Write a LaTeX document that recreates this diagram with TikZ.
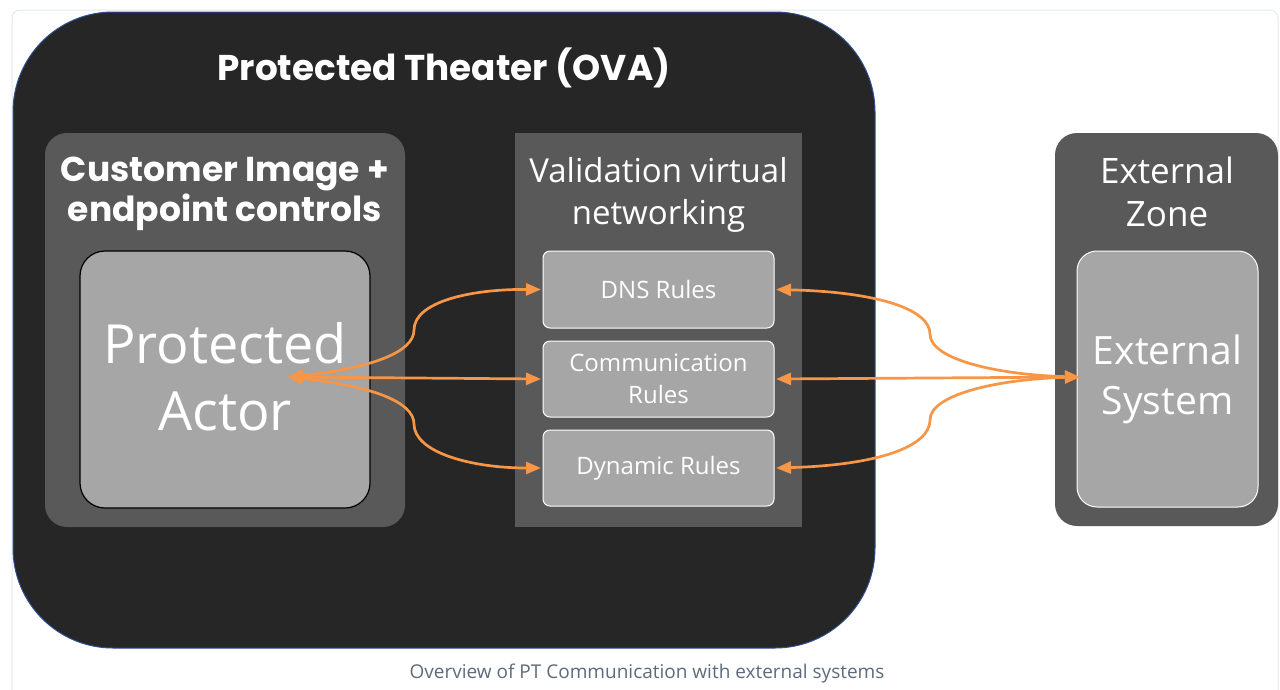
\documentclass[tikz,border=0pt]{standalone}
\usepackage{fontspec}
\setmainfont{Open Sans}
\newfontfamily\titlefont{Poppins}
\usetikzlibrary{arrows.meta}
\definecolor{darkbg}{HTML}{262626}
\definecolor{midbg}{HTML}{595959}
\definecolor{lightbg}{HTML}{A6A6A6}
\definecolor{orng}{HTML}{F79646}
\definecolor{edgeblue}{HTML}{2F4F8F}
\definecolor{framecol}{HTML}{E4E9F0}
\definecolor{capcol}{HTML}{5F6B7B}
\tikzset{
  box/.style={inner sep=0pt, outer sep=0pt},
  whitetxt/.style={text=white, align=center, inner sep=0pt},
  arr/.style={draw=orng, line width=2.7pt, {Triangle[length=15pt,width=12pt]}-{Triangle[length=15pt,width=12pt]}},
}
\begin{document}
\begin{tikzpicture}[x=1pt,y=-1pt]
\useasboundingbox (0,0) rectangle (1280,689);
\fill[white] (0,0) rectangle (1280,689);
% outer frame
\draw[framecol, line width=1pt, rounded corners=8pt] (12,720) -- (12,10) -- (1278,10) -- (1278,720);
% main theater
\node[box, fill=darkbg, draw=edgeblue, line width=1pt, rounded corners=100pt, minimum width=862pt, minimum height=636pt] (theater) at (444,330) {};
\node[whitetxt, font=\titlefont\bfseries\fontsize{35.8}{40}\selectfont] (title) at (444,68) {Protected Theater (OVA)};
% customer image
\node[box, fill=midbg, rounded corners=22pt, minimum width=360pt, minimum height=394pt] (cust) at (225,330) {};
\node[whitetxt, font=\titlefont\bfseries\fontsize{34.5}{40}\selectfont] (custtxt) at (225,194) {Customer Image +\\endpoint controls};
\node[box, fill=lightbg, draw=black, line width=1.2pt, rounded corners=25pt, minimum width=290pt, minimum height=257pt] (actor) at (225,379.5) {};
\node[whitetxt, font=\fontsize{54}{67}\selectfont] (actortxt) at (225,377) {Protected\\Actor};
% validation
\node[box, fill=midbg, minimum width=287pt, minimum height=394pt] (valid) at (658.5,330) {};
\node[whitetxt, font=\fontsize{33}{42}\selectfont] (validtxt) at (658.5,195) {Validation virtual\\networking};
\node[box, fill=lightbg, draw=white, line width=1pt, rounded corners=7pt, minimum width=231pt, minimum height=77pt] (dns) at (658.5,289.5) {};
\node[whitetxt, font=\fontsize{24}{32}\selectfont] (dnstxt) at (658.5,289.5) {DNS Rules};
\node[box, fill=lightbg, draw=white, line width=1pt, rounded corners=7pt, minimum width=231pt, minimum height=76pt] (comm) at (658.5,379) {};
\node[whitetxt, font=\fontsize{24}{32}\selectfont] (commtxt) at (658.5,379) {Communication\\Rules};
\node[box, fill=lightbg, draw=white, line width=1pt, rounded corners=7pt, minimum width=231pt, minimum height=76pt] (dyn) at (658.5,468) {};
\node[whitetxt, font=\fontsize{24}{32}\selectfont] (dyntxt) at (658.5,468) {Dynamic Rules};
% external
\node[box, fill=midbg, rounded corners=22pt, minimum width=223pt, minimum height=393pt] (extzone) at (1166.5,329.5) {};
\node[whitetxt, font=\fontsize{35}{43}\selectfont] (extzonetxt) at (1167,192) {External\\Zone};
\node[box, fill=lightbg, draw=white, line width=1pt, rounded corners=20pt, minimum width=181pt, minimum height=256pt] (extsys) at (1167.5,379) {};
\node[whitetxt, font=\fontsize{39}{50}\selectfont] (extsystxt) at (1167.5,379) {External\\System};
% connectors
\coordinate (pa) at (288,377);
\coordinate (es) at (1080,377);
\draw[arr] (pa) .. controls (372,368) and (414,352) .. (414,330) .. controls (414,302) and (470,289) .. ([xshift=-2pt]dns.west);
\draw[arr] (pa) -- ([xshift=-2pt]comm.west);
\draw[arr] (pa) .. controls (372,386) and (414,402) .. (414,424) .. controls (414,452) and (470,468) .. ([xshift=-2pt]dyn.west);
\draw[arr] ([xshift=2pt]dns.east) .. controls (880,292) and (930,310) .. (930,334) .. controls (930,360) and (1000,375) .. (es);
\draw[arr] ([xshift=2pt]comm.east) -- (es);
\draw[arr] ([xshift=2pt]dyn.east) .. controls (880,465) and (930,446) .. (930,420) .. controls (930,394) and (1000,379) .. (es);
% caption
\node[text=capcol, inner sep=0pt, font=\fontsize{19}{22}\selectfont] (caption) at (647,674) {Overview of PT Communication with external systems};
\end{tikzpicture}
\end{document}
